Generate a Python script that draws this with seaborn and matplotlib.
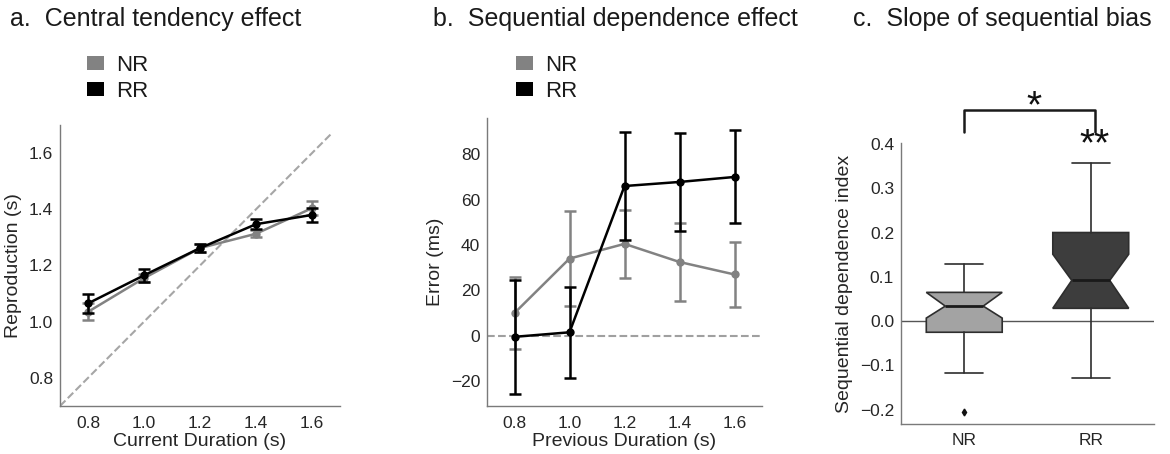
import matplotlib
matplotlib.use("Agg")
import matplotlib.pyplot as plt
import seaborn as sns
import pandas as pd
from matplotlib.patches import Patch

# ---------------- data ----------------
groups = ["NR", "RR"]
durations = [0.8, 1.0, 1.2, 1.4, 1.6]

# panel a: central tendency (mean reproduction, s) and error
repro_nr = [1.035, 1.155, 1.262, 1.313, 1.404]
repro_nr_err = [0.030, 0.015, 0.015, 0.012, 0.025]
repro_rr = [1.065, 1.165, 1.262, 1.347, 1.380]
repro_rr_err = [0.035, 0.022, 0.015, 0.017, 0.025]
identity_range = [0.7, 1.67]

# panel b: sequential dependence (error, ms)
seq_nr = [10.0, 34.0, 40.5, 32.5, 27.0]
seq_nr_err = [16.0, 21.0, 15.0, 17.0, 14.5]
seq_rr = [-0.5, 1.5, 66.0, 67.8, 70.0]
seq_rr_err = [25.0, 20.0, 24.0, 21.5, 20.5]

# panel c: box statistics of the sequential dependence index
box_whislo = [-0.117, -0.128]
box_q1 = [-0.025, 0.029]
box_med = [0.034, 0.092]
box_q3 = [0.065, 0.200]
box_whishi = [0.128, 0.357]
box_cilo = [0.007, 0.029]
box_cihi = [0.065, 0.151]
box_fliers = [[-0.205], []]

# ---------------- style ----------------
sns.set_style("white")
plt.rcParams["font.family"] = ["Liberation Sans", "DejaVu Sans"]
plt.rcParams["axes.edgecolor"] = "#7a7a7a"
plt.rcParams["axes.linewidth"] = 1.0
plt.rcParams["xtick.major.size"] = 0
plt.rcParams["ytick.major.size"] = 0
plt.rcParams["xtick.major.pad"] = 7.5
plt.rcParams["ytick.major.pad"] = 5
plt.rcParams["text.color"] = "#1a1a1a"
plt.rcParams["xtick.color"] = "#262626"
plt.rcParams["ytick.color"] = "#262626"
plt.rcParams["axes.labelcolor"] = "#262626"

colors = {"NR": "#828282", "RR": "#000000"}
TICK = 12.5
LABEL = 14
TITLE = 18
LEGEND = 16

W, H = 1170, 454
fig = plt.figure(figsize=(W / 100, H / 100), dpi=100)


def rect(l, r, t, b):
    return [l / W, 1 - b / H, (r - l) / W, (b - t) / H]


ax_a = fig.add_axes(rect(60, 340, 125, 406))
ax_b = fig.add_axes(rect(487, 762, 118, 406))
ax_c = fig.add_axes(rect(901, 1154, 143, 424))


def line_panel(ax, means_nr, err_nr, means_rr, err_rr):
    df = pd.DataFrame({
        "x": durations * 2,
        "y": list(means_nr) + list(means_rr),
        "group": ["NR"] * len(durations) + ["RR"] * len(durations),
    })
    for g, m, e in (("NR", means_nr, err_nr), ("RR", means_rr, err_rr)):
        sub = df[df["group"] == g]
        sns.lineplot(data=sub, x="x", y="y", ax=ax, color=colors[g],
                     marker="o", markersize=6, markeredgewidth=0,
                     linewidth=1.8, legend=False, zorder=3)
        ax.errorbar(durations, m, yerr=e, fmt="none", ecolor=colors[g],
                    elinewidth=1.8, capsize=4, capthick=1.8, zorder=3)
    ax.set_xticks(durations)
    ax.set_xticklabels([f"{d:.1f}" for d in durations])
    ax.tick_params(labelsize=TICK)
    sns.despine(ax=ax)


# panel a
ax_a.plot(identity_range, identity_range, ls="--", color="#a6a6a6", lw=1.5,
          zorder=1)
line_panel(ax_a, repro_nr, repro_nr_err, repro_rr, repro_rr_err)
ax_a.set_xlim(0.7, 1.7)
ax_a.set_ylim(0.7, 1.7)
ax_a.set_yticks([0.8, 1.0, 1.2, 1.4, 1.6])
ax_a.set_yticklabels(["0.8", "1.0", "1.2", "1.4", "1.6"])
ax_a.set_xlabel("Current Duration (s)", fontsize=LABEL, labelpad=1)
ax_a.set_ylabel("Reproduction (s)", fontsize=LABEL, labelpad=5)

# panel b
ax_b.axhline(0, ls="--", color="#a0a0a0", lw=1.5, zorder=1)
line_panel(ax_b, seq_nr, seq_nr_err, seq_rr, seq_rr_err)
ax_b.set_xlim(0.7, 1.7)
ax_b.set_ylim(-31, 96)
ax_b.set_yticks([-20, 0, 20, 40, 60, 80])
ax_b.set_yticklabels(["\u221220", "0", "20", "40", "60", "80"])
ax_b.set_xlabel("Previous Duration (s)", fontsize=LABEL, labelpad=1)
ax_b.set_ylabel("Error (ms)", fontsize=LABEL, labelpad=5)

# legends for a and b
handles = [Patch(facecolor=colors[g], edgecolor="none") for g in groups]
for x_px in (87, 516):
    fig.legend(handles, groups, loc="upper left",
               bbox_to_anchor=(x_px / W, 1 - 55 / H), frameon=False,
               fontsize=LEGEND, borderpad=0, borderaxespad=0,
               handlelength=0.78, handleheight=0.55, handletextpad=0.55,
               labelspacing=0.22)

# panel c
stats = []
for i, g in enumerate(groups):
    stats.append({
        "label": g, "whislo": box_whislo[i], "q1": box_q1[i],
        "med": box_med[i], "q3": box_q3[i], "whishi": box_whishi[i],
        "cilo": box_cilo[i], "cihi": box_cihi[i], "fliers": box_fliers[i],
    })
ax_c.axhline(0, color="#555555", lw=1.0, zorder=0)
bp = ax_c.bxp(stats, positions=[0, 1], widths=0.6, shownotches=True,
              patch_artist=True,
              boxprops=dict(edgecolor="#2e2e2e", linewidth=1.2),
              medianprops=dict(color="#1a1a1a", linewidth=2.0),
              whiskerprops=dict(color="#2e2e2e", linewidth=1.2),
              capprops=dict(color="#2e2e2e", linewidth=1.2),
              flierprops=dict(marker="d", markersize=3.5,
                              markerfacecolor="#111111",
                              markeredgecolor="#111111"))
for patch, fc in zip(bp["boxes"], ["#a3a3a3", "#3d3d3d"]):
    patch.set_facecolor(fc)
ax_c.set_xlim(-0.5, 1.5)
ax_c.set_ylim(-0.232, 0.402)
ax_c.set_yticks([-0.2, -0.1, 0.0, 0.1, 0.2, 0.3, 0.4])
ax_c.set_yticklabels(["\u22120.2", "\u22120.1", "0.0", "0.1", "0.2", "0.3",
                      "0.4"])
ax_c.set_xticks([0, 1])
ax_c.set_xticklabels(groups)
ax_c.tick_params(labelsize=TICK)
ax_c.tick_params(axis="x", pad=6.5)
ax_c.set_ylabel("Sequential dependence index", fontsize=LABEL, labelpad=5)
sns.despine(ax=ax_c)

# significance bracket
ax_c.plot([0, 0, 1.03, 1.03], [0.427, 0.476, 0.476, 0.427], color="#1a1a1a",
          lw=1.8, clip_on=False)
ax_c.text(0.55, 0.461, "*", ha="center", va="baseline", fontsize=28,
          color="#111111", clip_on=False)
ax_c.text(1.03, 0.374, "**", ha="center", va="baseline", fontsize=28,
          color="#111111", clip_on=False)

# titles
fig.text(10 / W, 1 - 26 / H, "a.  Central tendency effect", fontsize=TITLE,
         va="baseline", ha="left")
fig.text(433 / W, 1 - 26 / H, "b.  Sequential dependence effect",
         fontsize=TITLE, va="baseline", ha="left")
fig.text(853 / W, 1 - 26 / H, "c.  Slope of sequential bias", fontsize=TITLE,
         va="baseline", ha="left")

fig.savefig("out.png", dpi=100)
